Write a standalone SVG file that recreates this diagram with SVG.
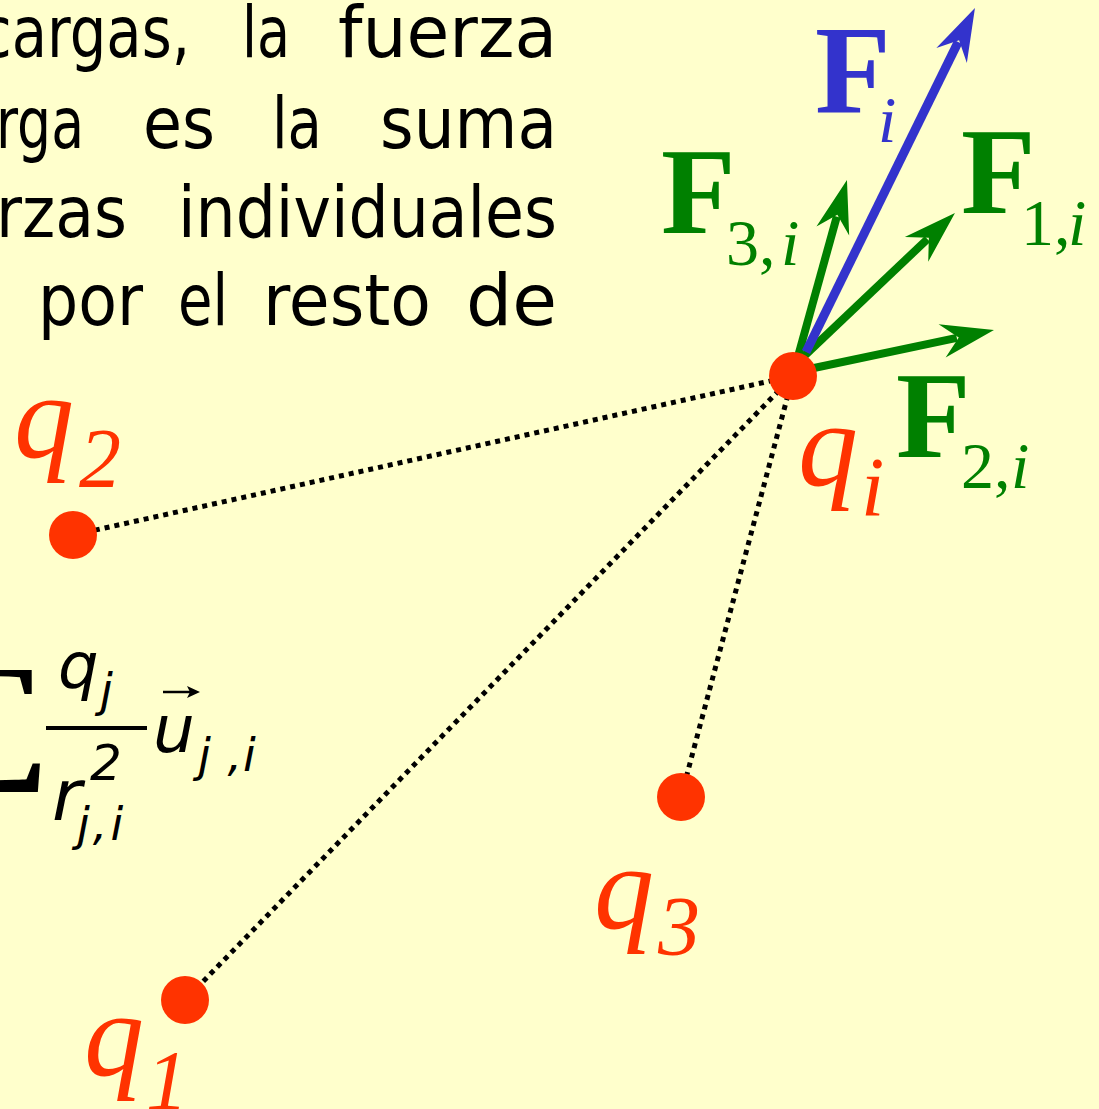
<svg xmlns="http://www.w3.org/2000/svg" width="1099" height="1109" viewBox="0 0 1099 1109">
<defs>
<style>
.txt{font-family:"DejaVu Sans",Verdana,sans-serif;font-size:72px;fill:#000}
.fx{font-family:"DejaVu Sans",Verdana,sans-serif;font-style:italic;fill:#000}
.qlab{font-family:"Liberation Serif","Times New Roman",serif;font-style:italic;fill:#FF3300}
.flab{font-family:"Liberation Serif","Times New Roman",serif}
.fb{font-weight:bold}
.it{font-style:italic}
.dot{stroke:#000;stroke-width:5;stroke-dasharray:5 5;fill:none}
.charge{fill:#FF3300}
.gv{stroke:#008000;stroke-width:8;fill:none}
.bv{stroke:#3333CC;stroke-width:9;fill:none}
</style>
<marker id="hg" markerUnits="userSpaceOnUse" orient="auto" refX="0" refY="0" markerWidth="60" markerHeight="40" overflow="visible">
<path d="M38,0 L-15,-17 L2,0 L-15,17 Z" fill="#008000"/>
</marker>
<marker id="hb" markerUnits="userSpaceOnUse" orient="auto" refX="0" refY="0" markerWidth="60" markerHeight="40" overflow="visible">
<path d="M38,0 L-15,-17 L2,0 L-15,17 Z" fill="#3333CC"/>
</marker>
</defs>
<rect width="1099" height="1109" fill="#FFFFCC"/>

<g id="text">
<text class="txt" x="-20" y="57" textLength="210" lengthAdjust="spacingAndGlyphs">cargas,</text>
<text class="txt" x="242" y="57" textLength="48" lengthAdjust="spacingAndGlyphs">la</text>
<text class="txt" x="338" y="57" textLength="219" lengthAdjust="spacingAndGlyphs">fuerza</text>
<text class="txt" x="-4" y="148" textLength="88" lengthAdjust="spacingAndGlyphs">rga</text>
<text class="txt" x="143" y="148" textLength="72" lengthAdjust="spacingAndGlyphs">es</text>
<text class="txt" x="272" y="148" textLength="50" lengthAdjust="spacingAndGlyphs">la</text>
<text class="txt" x="380" y="148" textLength="177" lengthAdjust="spacingAndGlyphs">suma</text>
<text class="txt" x="-4" y="237" textLength="131" lengthAdjust="spacingAndGlyphs">rzas</text>
<text class="txt" x="178" y="237" textLength="379" lengthAdjust="spacingAndGlyphs">individuales</text>
<text class="txt" x="38" y="325" textLength="105" lengthAdjust="spacingAndGlyphs">por</text>
<text class="txt" x="178" y="325" textLength="50" lengthAdjust="spacingAndGlyphs">el</text>
<text class="txt" x="263" y="325" textLength="168" lengthAdjust="spacingAndGlyphs">resto</text>
<text class="txt" x="466" y="325" textLength="91" lengthAdjust="spacingAndGlyphs">de</text>
</g>

<g id="formula">
<text x="56" y="762" text-anchor="end" transform="translate(56,0) scale(1.6,1) translate(-56,0)" style="font-family:'Liberation Serif',serif;font-size:140px;fill:#000">∑</text>
<text class="fx" x="58" y="688" font-size="64">q</text>
<text class="fx" x="100" y="706" font-size="46">j</text>
<line x1="46" y1="728" x2="147" y2="728" stroke="#000" stroke-width="4"/>
<text class="fx" x="52" y="820" font-size="72">r</text>
<text class="fx" x="90" y="780" font-size="50">2</text>
<text class="fx" x="77" y="840" font-size="46" letter-spacing="3">j,i</text>
<text class="fx" x="153" y="752" font-size="66">u</text>
<line x1="163" y1="692" x2="192" y2="692" stroke="#000" stroke-width="2.5"/>
<path d="M200,692 L187,686 L190,692 L187,698 Z" fill="#000"/>
<text class="fx" x="198" y="771" font-size="46" letter-spacing="1">j ,i</text>
</g>

<g id="connectors">
<line class="dot" x1="793" y1="376" x2="73" y2="535"/>
<line class="dot" x1="793" y1="376" x2="185" y2="1000"/>
<line class="dot" x1="793" y1="376" x2="681" y2="797"/>
</g>

<g id="forces">
<line class="gv" x1="797" y1="360" x2="836.8" y2="216.6" marker-end="url(#hg)"/>
<line class="gv" x1="800" y1="360" x2="927.4" y2="239.1" marker-end="url(#hg)"/>
<line class="gv" x1="795" y1="372" x2="956.8" y2="337.8" marker-end="url(#hg)"/>
<line class="bv" x1="806" y1="352" x2="958.2" y2="42.1" marker-end="url(#hb)"/>
</g>

<g id="label-Fi">
<text class="flab" fill="#3333CC"><tspan class="fb" x="815" y="112" font-size="124">F</tspan><tspan class="it" x="878" y="142" font-size="66">i</tspan></text>
</g>
<g id="label-F3i">
<text class="flab" fill="#008000"><tspan class="fb" x="661" y="233" font-size="122">F</tspan><tspan x="726" y="265" font-size="66">3,</tspan><tspan class="it" x="781" y="265" font-size="66">i</tspan></text>
</g>
<g id="label-F1i">
<text class="flab" fill="#008000"><tspan class="fb" x="961" y="213" font-size="122">F</tspan><tspan x="1021" y="245" font-size="66">1,</tspan><tspan class="it" x="1068" y="245" font-size="66">i</tspan></text>
</g>
<g id="label-F2i">
<text class="flab" fill="#008000"><tspan class="fb" x="896" y="457" font-size="122">F</tspan><tspan x="961" y="488" font-size="66">2,</tspan><tspan class="it" x="1011" y="488" font-size="66">i</tspan></text>
</g>

<g id="q-i">
<circle class="charge" cx="793" cy="376" r="24"/>
<text class="qlab"><tspan x="798" y="485" font-size="120">q</tspan><tspan x="861" y="516" font-size="84">i</tspan></text>
</g>
<g id="q-2">
<circle class="charge" cx="73" cy="535" r="24"/>
<text class="qlab"><tspan x="14" y="457" font-size="120">q</tspan><tspan x="79" y="487" font-size="84">2</tspan></text>
</g>
<g id="q-3">
<circle class="charge" cx="681" cy="797" r="24"/>
<text class="qlab"><tspan x="594" y="928" font-size="120">q</tspan><tspan x="658" y="955" font-size="84">3</tspan></text>
</g>
<g id="q-1">
<circle class="charge" cx="185" cy="1000" r="24"/>
<text class="qlab"><tspan x="84" y="1075" font-size="120">q</tspan><tspan x="146" y="1109" font-size="84">1</tspan></text>
</g>
</svg>
